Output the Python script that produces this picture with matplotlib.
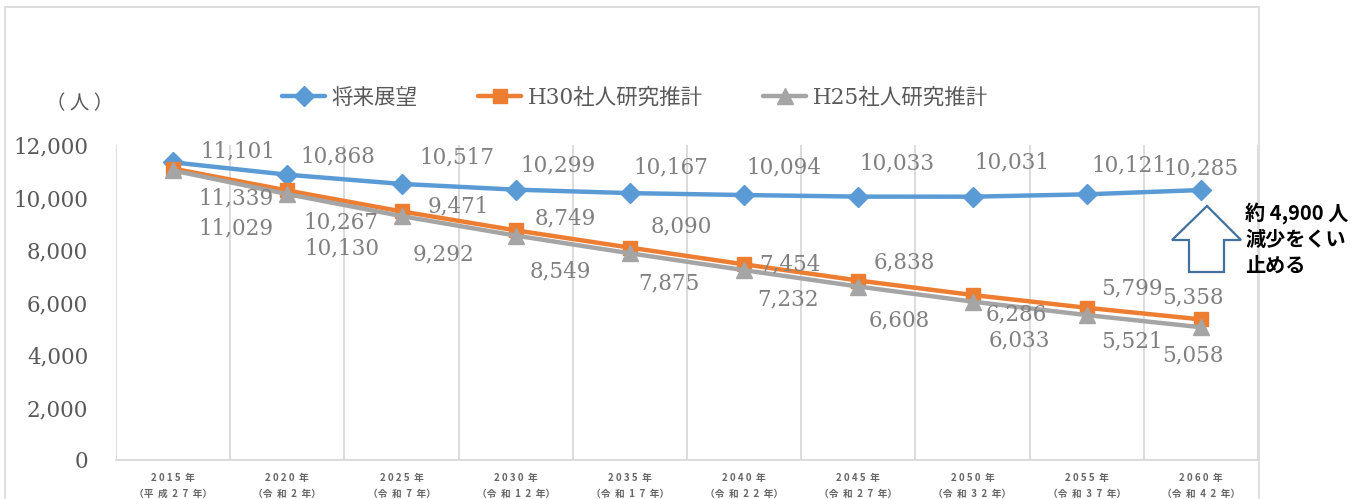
import matplotlib
matplotlib.use("Agg")
import matplotlib.pyplot as plt
from matplotlib.patches import Polygon, Rectangle

W, H = 1356, 499

years = ["2015年", "2020年", "2025年", "2030年", "2035年",
         "2040年", "2045年", "2050年", "2055年", "2060年"]
eras = ["平成27年", "令和2年", "令和7年", "令和12年", "令和17年",
        "令和22年", "令和27年", "令和32年", "令和37年", "令和42年"]

names = ["将来展望", "H30社人研究推計", "H25社人研究推計"]
vision = [11339, 10868, 10517, 10299, 10167, 10094, 10033, 10031, 10121, 10285]
h30 = [11101, 10267, 9471, 8749, 8090, 7454, 6838, 6286, 5799, 5358]
h25 = [11029, 10130, 9292, 8549, 7875, 7232, 6608, 6033, 5521, 5058]

# label offsets in pixels (dx, dy; dy down positive) -- layout only
off_vision = [(63, 36), (51, -18), (55, -26), (42, -24), (41, -26),
              (40, -28), (39, -33), (39, -34), (42, -29), (0, -22)]
off_h30 = [(65, -17), (54, 32), (57, -5), (50, -12), (51, -21),
           (46, 0), (46, -18), (44, 19), (45, -19), (-8, -22)]
off_h25 = [(63, 58), (55, 54), (42, 38), (45, 36), (39, 30),
           (44, 29), (41, 34), (47, 39), (45, 26), (-8, 28)]

num_font = ["DejaVu Serif", "Noto Sans CJK JP"]
plt.rcParams['font.family'] = num_font

fig = plt.figure(figsize=(W / 100, H / 100), dpi=100)


def fx(px):
    return px / W


def fy(py):
    return 1 - py / H


# chart frame
fig.patches.append(Rectangle((fx(5), fy(505)), fx(1259) - fx(5), fy(7) - fy(505),
                             transform=fig.transFigure, fill=False,
                             edgecolor="#d9d9d9", linewidth=1.2))

ax = fig.add_axes([fx(116), fy(460), fx(1258) - fx(116), fy(145) - fy(460)])
x = list(range(len(years)))

series = [(vision, "#5b9bd5", "D", 10, off_vision),
          (h30, "#ed7d31", "s", 10.5, off_h30),
          (h25, "#a5a5a5", "^", 11.5, off_h25)]
for (vals, col, mk, ms, offs), name in zip(series, names):
    ax.plot(x, vals, color=col, lw=3.2, marker=mk, ms=ms, label=name,
            solid_capstyle="round")
    for xi, v, (dx, dy) in zip(x, vals, offs):
        ax.annotate(f"{v:,}", (xi, v), xytext=(dx, -dy), textcoords="offset pixels",
                    ha="center", va="center", fontsize=15.5, color="#808080",
                    family="DejaVu Serif")

ax.set_xlim(-0.5, len(years) - 0.5)
ax.set_ylim(0, 12000)
ax.set_yticks(range(0, 12001, 2000))
ax.set_yticklabels([f"{t:,}" for t in range(0, 12001, 2000)])
ax.tick_params(axis="y", length=0, pad=20, labelsize=15.5, labelcolor="#595959")
ax.set_xticks(x)
ax.set_xticklabels([" ".join(y[:-1]) + "  年\n（" + "  ".join(e) + "）" for y, e in zip(years, eras)],
                   family="Noto Sans CJK JP", fontsize=7, color="#666666",
                   fontweight="bold", linespacing=1.75)
ax.tick_params(axis="x", length=0, pad=9)
for b in [i - 0.5 for i in range(len(years) + 1)]:
    ax.axvline(b, color="#d9d9d9", lw=1.3, zorder=0)
for s in ["top", "right", "left"]:
    ax.spines[s].set_visible(False)
ax.spines["bottom"].set_color("#d9d9d9")
ax.spines["bottom"].set_linewidth(1.3)

fig.text(fx(80), fy(104), "（ 人 ）", ha="center", va="center", fontsize=14,
         color="#595959", family="Noto Sans CJK JP")

fig.legend(loc="center", bbox_to_anchor=(fx(635), fy(98)), ncol=3, frameon=False,
           fontsize=15.5, handlelength=2.0, columnspacing=2.8, handletextpad=0.3,
           labelcolor="#595959")

# up arrow annotation
arrow = [(1207, 206), (1241, 240), (1224, 240), (1224, 272), (1189, 272),
         (1189, 240), (1172, 240)]
fig.patches.append(Polygon([(fx(a), fy(b)) for a, b in arrow], closed=True,
                           transform=fig.transFigure, facecolor="white",
                           edgecolor="#41719c", linewidth=1.6))
fig.text(fx(1245), fy(239), "約 4,900 人\n減少をくい\n止める", ha="left", va="center",
         fontsize=14.5, fontweight="bold", color="black", linespacing=1.3,
         family="Noto Sans CJK JP")

fig.savefig("out.png", dpi=100)
